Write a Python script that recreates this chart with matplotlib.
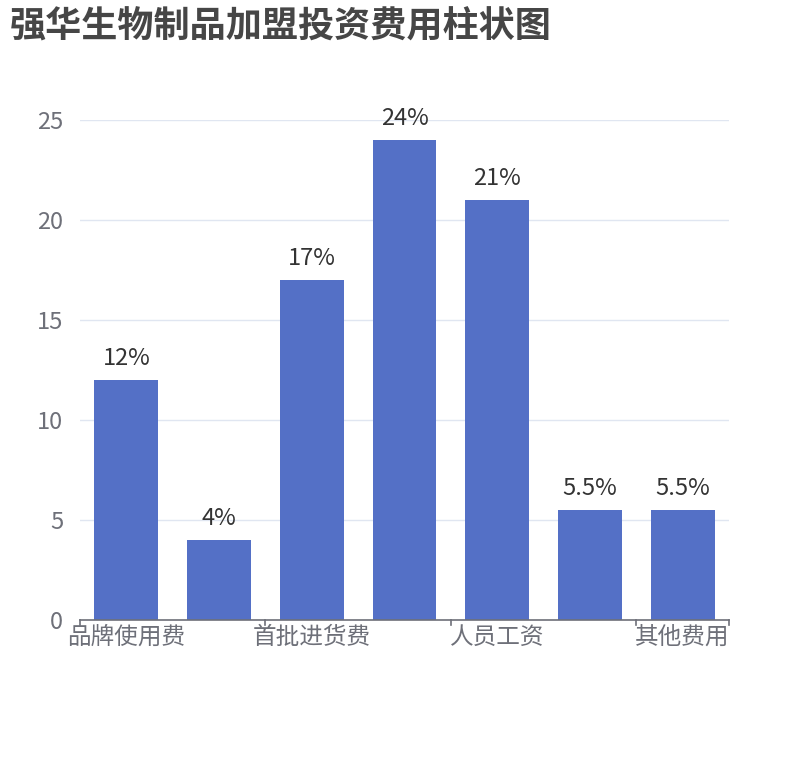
import matplotlib.pyplot as plt
import numpy as np

plt.rcParams['font.family'] = ['Noto Sans CJK SC', 'DejaVu Sans']

categories = ['品牌使用费', '装修费用', '首批进货费', '设备费用', '人员工资', '流动资金', '其他费用']
values = [12, 4, 17, 24, 21, 5.5, 5.5]
labels = ['12%', '4%', '17%', '24%', '21%', '5.5%', '5.5%']
yticks = [0, 5, 10, 15, 20, 25]

fig = plt.figure(figsize=(8.1, 7.6), dpi=100)
ax = fig.add_axes([80 / 810, 1 - 620 / 760, 649 / 810, 500 / 760])

x = np.arange(len(categories))
ax.bar(x, values, width=0.69, color='#5470c6', zorder=2)
for xi, v, lb in zip(x, values, labels):
    ax.text(xi, v + 0.5, lb, ha='center', va='bottom', fontsize=17, color='#333333')

ax.set_xlim(-0.5, len(categories) - 0.5)
ax.set_ylim(0, 25)
ax.set_yticks(yticks)
ax.tick_params(axis='y', length=0, labelsize=17, labelcolor='#6e7079', pad=12)
ax.grid(axis='y', color='#e0e6f1', linewidth=1, zorder=0)

# category labels on every other bar, tick marks on band edges
ax.set_xticks(x[::2])
ax.set_xticklabels(categories[::2], fontsize=17, color='#6e7079')
ax.tick_params(axis='x', length=0, pad=4)
for b in list(np.arange(-0.5, len(categories), 2)) + [len(categories) - 0.5]:
    ax.plot([b, b], [0, -0.25], color='#6e7079', lw=1.2, clip_on=False)

for s in ['top', 'right', 'left']:
    ax.spines[s].set_visible(False)
ax.spines['bottom'].set_color('#6e7079')
ax.spines['bottom'].set_linewidth(1.2)

fig.text(10 / 810, 1 - 27 / 760, '强华生物制品加盟投资费用柱状图', fontsize=26,
         fontweight='bold', color='#464646', va='center', ha='left')

fig.savefig('out.png')
